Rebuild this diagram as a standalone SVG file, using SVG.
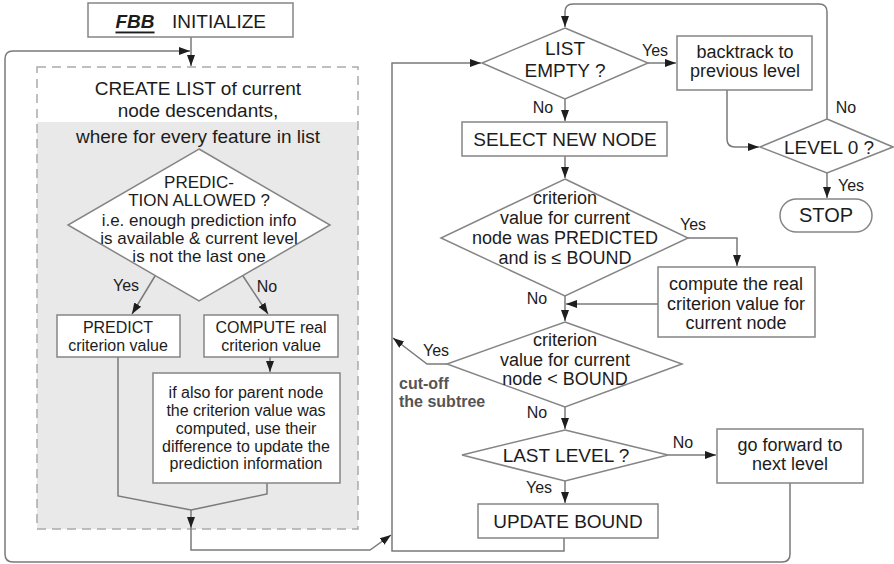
<svg xmlns="http://www.w3.org/2000/svg" width="894" height="564" viewBox="0 0 894 564">
<style>
  text { font-family: "Liberation Sans", Arial, sans-serif; fill: #1c1c1c; text-anchor: middle; dominant-baseline: central; }
  .h { font-size: 19px; }
  .m { font-size: 18px; }
  .s { font-size: 17px; }
  .xs { font-size: 16px; }
  .lbl { font-size: 16px; }
  .cut { font-size: 16px; font-weight: bold; fill: #555; text-anchor: start; }
  .box { fill: #fff; stroke: #858585; stroke-width: 1.5; }
  .conn { fill: none; stroke: #7a7a7a; stroke-width: 1.5; }
</style>
<defs>
  <marker id="ah" markerWidth="12" markerHeight="10" refX="11" refY="5" orient="auto" markerUnits="userSpaceOnUse">
    <path d="M0,1 L11,5 L0,9 z" fill="#1e1e1e"/>
  </marker>
</defs>

<g id="create-list">
  <rect x="37" y="122" width="321" height="407" fill="#e9e9e9"/>
  <rect x="37" y="67" width="321" height="462" fill="none" stroke="#ababab" stroke-width="1.5" stroke-dasharray="9,6"/>
  <text class="h" x="198" y="88">CREATE LIST of current</text>
  <text class="h" x="198" y="110">node descendants,</text>
  <text class="h" x="198" y="136">where for every feature in list</text>
</g>

<g id="connectors">
  <path class="conn" d="M191,37 V66" marker-end="url(#ah)"/>
  <path class="conn" d="M790,483 V554 Q790,562 782,562 H13 Q5,562 5,554 V59 Q5,51 13,51 H190" marker-end="url(#ah)"/>
  <path class="conn" d="M155,276 L132,314" marker-end="url(#ah)"/>
  <path class="conn" d="M243,276 L268,314" marker-end="url(#ah)"/>
  <path class="conn" d="M270,357 V372" marker-end="url(#ah)"/>
  <path class="conn" d="M118,357 V496 L191,510 L267,494 V483"/>
  <path class="conn" d="M191,510 V528" marker-end="url(#ah)"/>
  <path class="conn" d="M191,528 V550 H370 L391,535" marker-end="url(#ah)"/>
  <path class="conn" d="M564,538 V551 H392 V63 H481" marker-end="url(#ah)"/>
  <path class="conn" d="M447,364 H427 L393,338" marker-end="url(#ah)"/>
  <path class="conn" d="M648,63 H676" marker-end="url(#ah)"/>
  <path class="conn" d="M565,99 V121" marker-end="url(#ah)"/>
  <path class="conn" d="M727,90 V139 Q727,147 735,147 H759" marker-end="url(#ah)"/>
  <path class="conn" d="M827,119 V12 Q827,4 819,4 H573 Q565,4 565,12 V27" marker-end="url(#ah)"/>
  <path class="conn" d="M827,173 V198" marker-end="url(#ah)"/>
  <path class="conn" d="M565,156 V178" marker-end="url(#ah)"/>
  <path class="conn" d="M688,238 H737 V266" marker-end="url(#ah)"/>
  <path class="conn" d="M658,304 H566" marker-end="url(#ah)"/>
  <path class="conn" d="M565,296 V321" marker-end="url(#ah)"/>
  <path class="conn" d="M565,407 V429" marker-end="url(#ah)"/>
  <path class="conn" d="M668,455 H716" marker-end="url(#ah)"/>
  <path class="conn" d="M565,481 V503" marker-end="url(#ah)"/>
</g>

<g id="init">
  <rect class="box" x="88" y="3" width="205" height="34"/>
  <text class="h" x="135" y="21" style="font-weight:bold;font-style:italic;text-decoration:underline">FBB</text>
  <text class="h" x="219" y="21">INITIALIZE</text>
</g>

<g id="prediction-allowed">
  <polygon class="box" points="199,149 330,225 199,301 68,225"/>
  <text class="s" x="199" y="182">PREDIC-</text>
  <text class="s" x="199" y="200">TION ALLOWED ?</text>
  <text class="s" x="199" y="220">i.e. enough prediction info</text>
  <text class="s" x="199" y="238">is available &amp; current level</text>
  <text class="s" x="199" y="256">is not the last one</text>
  <text class="lbl" x="126" y="285">Yes</text>
  <text class="lbl" x="267" y="286">No</text>
</g>

<g id="predict">
  <rect class="box" x="57" y="315" width="123" height="42"/>
  <text class="xs" x="118" y="327">PREDICT</text>
  <text class="xs" x="118" y="345">criterion value</text>
</g>

<g id="compute">
  <rect class="box" x="204" y="315" width="134" height="42"/>
  <text class="xs" x="271" y="327">COMPUTE real</text>
  <text class="xs" x="271" y="345">criterion value</text>
</g>

<g id="update-prediction">
  <rect class="box" x="153" y="373" width="187" height="110"/>
  <text class="xs" x="246" y="392">if also for parent node</text>
  <text class="xs" x="246" y="410">the criterion value was</text>
  <text class="xs" x="246" y="428">computed, use their</text>
  <text class="xs" x="246" y="446">difference to update the</text>
  <text class="xs" x="246" y="463">prediction information</text>
</g>

<g id="list-empty">
  <polygon class="box" points="565,28 648,63 565,99 482,63"/>
  <text class="h" x="565" y="48">LIST</text>
  <text class="h" x="565" y="70">EMPTY ?</text>
  <text class="lbl" x="655" y="50">Yes</text>
  <text class="lbl" x="543" y="107">No</text>
</g>

<g id="backtrack">
  <rect class="box" x="677" y="36" width="135" height="54"/>
  <text class="m" x="745" y="52">backtrack to</text>
  <text class="m" x="745" y="71">previous level</text>
</g>

<g id="level0">
  <polygon class="box" points="827,119 893,147 827,173 760,147"/>
  <text class="h" x="829" y="147">LEVEL 0 ?</text>
  <text class="lbl" x="846" y="107">No</text>
  <text class="lbl" x="851" y="185">Yes</text>
</g>

<g id="stop">
  <rect class="box" x="780" y="199" width="92" height="33" rx="16.5"/>
  <text x="826" y="215" style="font-size:20px">STOP</text>
</g>

<g id="select">
  <rect class="box" x="462" y="122" width="205" height="34"/>
  <text class="h" x="565" y="139">SELECT NEW NODE</text>
</g>

<g id="was-predicted">
  <polygon class="box" points="565,179 688,238 565,296 441,238"/>
  <text class="m" x="565" y="198">criterion</text>
  <text class="m" x="565" y="218">value for current</text>
  <text class="m" x="565" y="238">node was PREDICTED</text>
  <text class="m" x="565" y="258">and is ≤ BOUND</text>
  <text class="lbl" x="693" y="224">Yes</text>
  <text class="lbl" x="537" y="298">No</text>
</g>

<g id="compute-real">
  <rect class="box" x="658" y="267" width="157" height="70"/>
  <text class="m" x="736" y="284">compute the real</text>
  <text class="m" x="736" y="304">criterion value for</text>
  <text class="m" x="736" y="323">current node</text>
</g>

<g id="less-bound">
  <polygon class="box" points="565,322 682,364 565,407 447,364"/>
  <text class="m" x="565" y="340">criterion</text>
  <text class="m" x="565" y="360">value for current</text>
  <text class="m" x="565" y="379">node &lt; BOUND</text>
  <text class="lbl" x="436" y="350">Yes</text>
  <text class="lbl" x="537" y="412">No</text>
  <text class="cut" x="399" y="383">cut-off</text>
  <text class="cut" x="399" y="401">the subtree</text>
</g>

<g id="last-level">
  <polygon class="box" points="565,430 668,455 565,481 462,455"/>
  <text class="h" x="566" y="455">LAST LEVEL ?</text>
  <text class="lbl" x="683" y="442">No</text>
  <text class="lbl" x="539" y="487">Yes</text>
</g>

<g id="go-forward">
  <rect class="box" x="717" y="429" width="146" height="54"/>
  <text class="m" x="790" y="445">go forward to</text>
  <text class="m" x="790" y="464">next level</text>
</g>

<g id="update-bound">
  <rect class="box" x="478" y="504" width="180" height="34"/>
  <text class="h" x="568" y="521">UPDATE BOUND</text>
</g>
</svg>
